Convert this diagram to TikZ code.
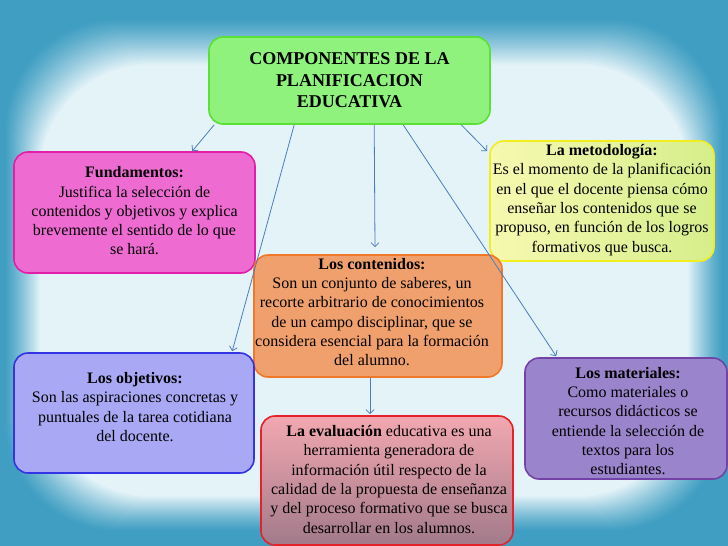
\documentclass[tikz,border=0pt]{standalone}
\usepackage{fontspec}
\setmainfont{Liberation Serif}
\usetikzlibrary{arrows.meta,calc}
\definecolor{bgo}{HTML}{3F9EC2}
\definecolor{bgc}{HTML}{E4F3F8}
\definecolor{titleFill}{HTML}{8EF27C}
\definecolor{titleDraw}{HTML}{5BE034}
\definecolor{fundFill}{HTML}{EE6CD2}
\definecolor{fundDraw}{HTML}{E31FA9}
\definecolor{metFillL}{HTML}{F6F9B0}
\definecolor{metFillR}{HTML}{D6EE8C}
\definecolor{metDraw}{HTML}{F2EE1E}
\definecolor{contFill}{HTML}{F0A06C}
\definecolor{contDraw}{HTML}{F07828}
\definecolor{objFill}{HTML}{A8A8F4}
\definecolor{objDraw}{HTML}{3434E4}
\definecolor{evalTop}{HTML}{F2A8B0}
\definecolor{evalBot}{HTML}{A27A8A}
\definecolor{evalDraw}{HTML}{E4222A}
\definecolor{matFill}{HTML}{9A84CC}
\definecolor{matDraw}{HTML}{7242A6}
\definecolor{arrowc}{HTML}{4A7EBB}
\tikzset{
  box/.style={rounded corners=14pt, line width=1.6pt, inner sep=0pt},
  txt/.style={inner sep=0pt, align=center, font=\fontsize{16}{19.3}\selectfont},
  ttl/.style={inner sep=0pt, align=center, font=\fontsize{18}{21.5}\selectfont\bfseries},
  link/.style={draw=arrowc, line width=0.8pt, -{Straight Barb[length=4pt,width=8pt]}}
}
\begin{document}
\begin{tikzpicture}[x=1pt,y=-1pt]
\useasboundingbox (0,0) rectangle (728,546);
\fill[bgo] (0,0) rectangle (728,546);
\foreach \k in {0,...,36} {
  \pgfmathsetmacro\p{100*(\k/36)^1.2}
  \fill[bgc!\p!bgo, rounded corners=110pt] (4+\k,18+1.3*\k) rectangle (724-\k,532-1.0*\k);
}
% boxes
\node[box, draw=titleDraw, fill=titleFill, minimum width=281pt, minimum height=87pt] (title) at (349.5,80.5) {};
\node[box, draw=fundDraw, fill=fundFill, minimum width=241pt, minimum height=121pt] (fund) at (134.5,212.5) {};
\node[box, draw=metDraw, left color=metFillL, right color=metFillR, minimum width=224pt, minimum height=120pt] (met) at (602,201) {};
\node[box, draw=contDraw, fill=contFill, minimum width=248pt, minimum height=122pt] (cont) at (378,316) {};
\node[box, draw=objDraw, fill=objFill, minimum width=240pt, minimum height=120pt] (obj) at (134,413) {};
\node[box, draw=evalDraw, top color=evalTop, bottom color=evalBot, minimum width=252pt, minimum height=129pt] (eval) at (387,480.5) {};
\node[box, draw=matDraw, fill=matFill, minimum width=202pt, minimum height=121pt] (mat) at (626,418.5) {};
% texts
\node[ttl] (titleT) at (349.5,82) {\strut COMPONENTES DE LA\\PLANIFICACION\\EDUCATIVA\strut};
\node[txt] (fundT) at (134.5,212.5) {\strut\textbf{Fundamentos:}\\Justifica la selección de\\contenidos y objetivos y explica\\brevemente el sentido de lo que\\se hará.\strut};
\node[txt] (metT) at (602,200) {\strut\textbf{La metodología:}\\Es el momento de la planificación\\en el que el docente piensa cómo\\enseñar los contenidos que se\\propuso, en función de los logros\\formativos que busca.\strut};
\node[txt] (contT) at (372,313.5) {\strut\textbf{Los contenidos:}\\Son un conjunto de saberes, un\\recorte arbitrario de conocimientos\\de un campo disciplinar, que se\\considera esencial para la formación\\del alumno.\strut};
\node[txt] (objT) at (135,408.5) {\strut\textbf{Los objetivos:}\\Son las aspiraciones concretas y\\puntuales de la tarea cotidiana\\del docente.\strut};
\node[txt] (evalT) at (389,481) {\strut\textbf{La evaluación} educativa es una\\herramienta generadora de\\información útil respecto de la\\calidad de la propuesta de enseñanza\\y del proceso formativo que se busca\\desarrollar en los alumnos.\strut};
\node[txt] (matT) at (628,422.5) {\strut\textbf{Los materiales:}\\Como materiales o\\recursos didácticos se\\entiende la selección de\\textos para los\\estudiantes.\strut};
% connector end points
\coordinate (s1) at ([xshift=6pt]title.south west);
\coordinate (s2) at ([xshift=86pt]title.south west);
\coordinate (s3) at ([xshift=166pt]title.south west);
\coordinate (s4) at ([xshift=195pt]title.south west);
\coordinate (s5) at ([xshift=253pt]title.south west);
\coordinate (e1) at ([xshift=179pt]fund.north west);
\coordinate (e2) at ([xshift=219pt,yshift=1pt]obj.north west);
\coordinate (e3) at ([xshift=-3pt,yshift=7pt]cont.north);
\coordinate (e4) at ([xshift=32pt,yshift=1pt]mat.north west);
\coordinate (e5) at ([xshift=-2pt,yshift=-11pt]met.north west);
\coordinate (s6) at ([xshift=-8pt]cont.south);
\coordinate (e6) at ([xshift=-17pt,yshift=1pt]eval.north);
\draw[link] (s1) -- (e1);
\draw[link] (s2) -- (e2);
\draw[link] (s3) -- (e3);
\draw[link] (s4) -- (e4);
\draw[link] (s5) -- (e5);
\draw[link] (s6) -- (e6);
\end{tikzpicture}
\end{document}
